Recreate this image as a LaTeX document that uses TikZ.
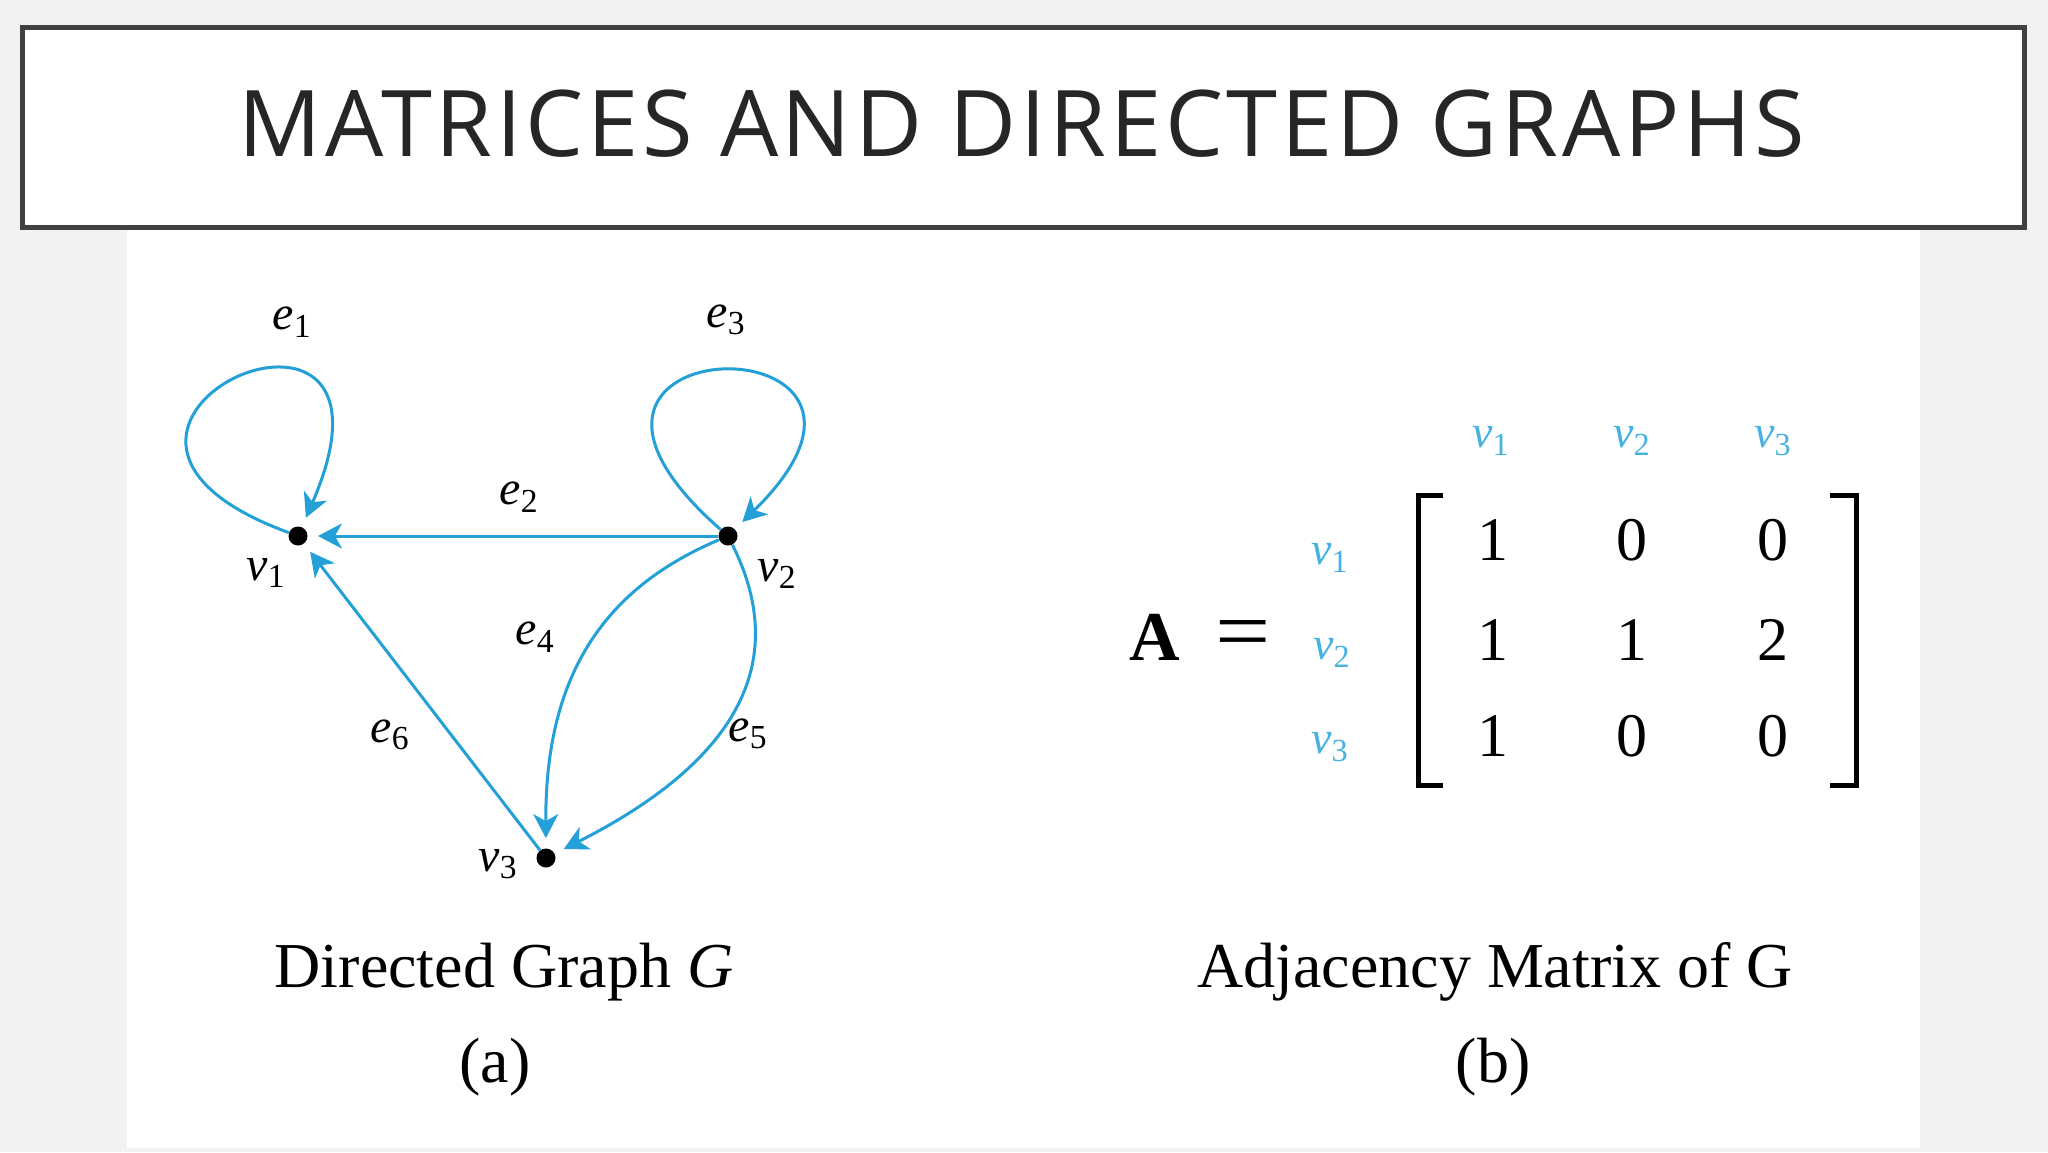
\documentclass[tikz,border=0pt]{standalone}
\usepackage{graphicx}
\usepackage{fontspec}
\setmainfont{Liberation Serif}
\newfontfamily\titlefont[LetterSpace=4]{Open Sans}
\usetikzlibrary{arrows.meta}
\definecolor{pagebg}{HTML}{F2F2F2}
\definecolor{edgeblue}{RGB}{35,160,215}
\definecolor{lblblue}{RGB}{70,178,225}
\definecolor{framegray}{HTML}{404040}
\definecolor{titlegray}{HTML}{262626}
\newcommand{\isub}[2]{\textit{#1}\textsubscript{#2}}
\tikzset{
 vtx/.style={circle, fill=black, inner sep=0pt, minimum size=9.5pt},
 edge/.style={draw=edgeblue, line width=1.5pt, -{Stealth[length=12pt,width=12.5pt,inset=3.5pt]}, shorten >=5pt},
 glabel/.style={font=\fontsize{24}{28}\selectfont, inner sep=0pt},
 mlabel/.style={font=\fontsize{23}{27}\selectfont, text=lblblue, inner sep=0pt},
 entry/.style={font=\fontsize{31}{36}\selectfont, anchor=base, inner sep=0pt},
 caption/.style={font=\fontsize{32}{38}\selectfont, anchor=base, inner sep=0pt},
 bracket/.style={line width=2.5pt, line cap=butt, line join=miter}
}
\begin{document}
\begin{tikzpicture}[x=0.5pt,y=-0.5pt]
\fill[pagebg] (0,0) rectangle (2048,1152);
\useasboundingbox (0,0) rectangle (2048,1152);
\fill[white] (127,229) rectangle (1920,1148);
% title
\draw[framegray, line width=2.5pt, fill=white] (22.5,27.5) rectangle (2024.5,227.5);
\node[anchor=base, text=titlegray, inner sep=0pt, font=\titlefont\fontsize{46}{50}\selectfont] (title) at (1022,156) {MATRICES AND DIRECTED GRAPHS};
% graph
\node[vtx] (v1) at (298,536) {};
\node[vtx] (v2) at (728,536) {};
\node[vtx] (v3) at (546,858) {};
\path[edge] (v1) .. controls +(-300,-110) and +(130,-300) .. (v1);
\path[edge] (v2) -- (v1);
\path[edge] (v2) .. controls +(-245,-215) and +(225,-220) .. (v2);
\path[edge] (v2) .. controls (600,590) and (545,680) .. (v3);
\path[edge] (v2) .. controls (800,680) and (710,775) .. (v3);
\path[edge] (v3) -- (v1);
\node[glabel] (lv1) at (266,573) {\isub{v}{1}};
\node[glabel] (lv2) at (777,574) {\isub{v}{2}};
\node[glabel] (lv3) at (498,864) {\isub{v}{3}};
\node[glabel] (le1) at (292,322) {\isub{e}{1}};
\node[glabel] (le2) at (519,497) {\isub{e}{2}};
\node[glabel] (le3) at (726,320) {\isub{e}{3}};
\node[glabel] (le4) at (535,637) {\isub{e}{4}};
\node[glabel] (le5) at (748,734) {\isub{e}{5}};
\node[glabel] (le6) at (390,735) {\isub{e}{6}};
\node[caption] (capa) at (504,987) {Directed Graph \textit{G}};
\node[caption] (capa2) at (495,1082) {(a)};
% matrix
\node[anchor=base, inner sep=0pt, font=\fontsize{35}{40}\selectfont] (A) at (1155,660) {\textbf{A}};
\node[anchor=base, inner sep=0pt, font=\fontsize{35}{40}\selectfont] (eq) at (1243,660) {\scalebox{1.4}[1.25]{=}};
\node[mlabel] (c1) at (1491,441) {\isub{v}{1}};
\node[mlabel] (c2) at (1632,441) {\isub{v}{2}};
\node[mlabel] (c3) at (1773,441) {\isub{v}{3}};
\node[mlabel] (r1) at (1330,558) {\isub{v}{1}};
\node[mlabel] (r2) at (1332,653) {\isub{v}{2}};
\node[mlabel] (r3) at (1330,747) {\isub{v}{3}};
\node[entry] (a11) at (1493,560) {1};
\node[entry] (a12) at (1632,560) {0};
\node[entry] (a13) at (1773,560) {0};
\node[entry] (a21) at (1493,660) {1};
\node[entry] (a22) at (1632,660) {1};
\node[entry] (a23) at (1773,660) {2};
\node[entry] (a31) at (1493,756) {1};
\node[entry] (a32) at (1632,756) {0};
\node[entry] (a33) at (1773,756) {0};
\draw[bracket] (1443,495) -- (1418,495) -- (1418,785) -- (1443,785);
\draw[bracket] (1830,495) -- (1856,495) -- (1856,785) -- (1830,785);
\node[caption] (capb) at (1495,987) {Adjacency Matrix of G};
\node[caption] (capb2) at (1493,1082) {(b)};
\end{tikzpicture}
\end{document}
